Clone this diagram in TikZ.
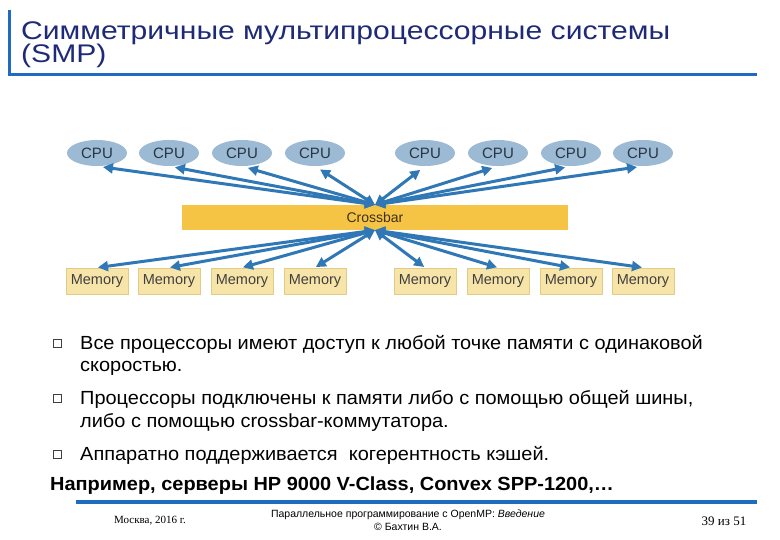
\documentclass[tikz,border=0pt]{standalone}
\usepackage{fontspec}
\setmainfont{Liberation Sans}
\newfontfamily\smpserif{Liberation Serif}
\newfontfamily\smpwide[FakeStretch=1.18]{Liberation Sans}
\newfontfamily\smpbody[FakeStretch=1.05]{Liberation Sans}
\newcommand\smptitlefont{\smpwide\fontsize{25.5}{23}\selectfont\setlength{\lineskiplimit}{-50pt}}
\usetikzlibrary{arrows.meta,shapes.geometric,positioning}
\definecolor{smpRule}{HTML}{1F6BBF}
\definecolor{smpTitle}{HTML}{1E2A78}
\definecolor{smpCpu}{HTML}{9DBAD4}
\definecolor{smpCpuText}{HTML}{263645}
\definecolor{smpBar}{HTML}{F6C445}
\definecolor{smpBarText}{HTML}{3E3018}
\definecolor{smpMem}{HTML}{F7E4A8}
\definecolor{smpMemEdge}{HTML}{E3CB86}
\definecolor{smpLink}{HTML}{2F78B5}
\tikzset{
  smpcpu/.style={ellipse,fill=smpCpu,minimum width=60pt,minimum height=26pt,inner sep=0pt,
                 text=smpCpuText,font=\fontsize{15}{15}\selectfont},
  smpmem/.style={rectangle,fill=smpMem,draw=smpMemEdge,line width=0.8pt,minimum width=62pt,
                 minimum height=26pt,inner sep=0pt,text=black!75,font=\fontsize{14.5}{14.5}\selectfont},
  smpbar/.style={rectangle,fill=smpBar,minimum width=386pt,minimum height=25pt,inner sep=0pt,
                 text=smpBarText,font=\fontsize{14}{14}\selectfont},
  smplink/.style={{Triangle[length=10pt,width=10pt]}-{Triangle[length=10pt,width=10pt]},
                  draw=smpLink,line width=3pt},
  smpbullet/.style={draw=black!75,line width=0.8pt,minimum size=8pt,inner sep=0pt},
  smpitem/.style={anchor=base west,inner sep=0pt,align=left,font=\smpbody\fontsize{19}{23}\selectfont},
  smpfoot/.style={inner sep=0pt,align=center,font=\fontsize{10.5}{13.5}\selectfont},
}
\begin{document}
\begin{tikzpicture}[x=1pt,y=-1pt]
  \useasboundingbox (0,0) rectangle (780,540);
  % title and its rule (base anchor sits on the last line)
  \draw[smpRule,line width=3pt] (9,10) -- (9,75) -- (757,75);
  \node[anchor=base west,inner sep=0pt,text=smpTitle,align=left,font=\smptitlefont]
        (title) at (21,63) {Симметричные мультипроцессорные системы\\(SMP)};

  \node[smpbar] (bar) at (375,217.5) {Crossbar};
  \foreach \x [count=\i] in {97,169,242,315,425,498,571,643}{
    \node[smpcpu] (cpu\i) at (\x,153) {CPU};
    \node[smpmem] (mem\i) at (\x,281) {Memory};
    \draw[smplink,shorten >=6pt] (bar.north) -- (cpu\i.south);
    \draw[smplink,shorten >=1pt] (bar.south) -- (mem\i.north);
  }

  \node[smpbullet] (b1) at (57,343) {};
  \node[smpitem] (t1) at (80,372) {Все процессоры имеют доступ к любой точке памяти с одинаковой\\скоростью.};
  \node[smpbullet] (b2) at (57,398) {};
  \node[smpitem] (t2) at (80,427) {Процессоры подключены к памяти либо с помощью общей шины,\\либо с помощью crossbar-коммутатора.};
  \node[smpbullet] (b3) at (57,454) {};
  \node[smpitem] (t3) at (80,460) {Аппаратно поддерживается~ когерентность кэшей.};
  \node[smpitem,font=\smpbody\bfseries\fontsize{19}{23}\selectfont] (ex) at (50,490)
        {Например, серверы HP 9000 V-Class, Convex SPP-1200,…};

  % footer
  \draw[smpRule,line width=4pt] (76,502) -- (757,502);
  \node[smpfoot,font=\smpserif\fontsize{11}{11}\selectfont] (place) at (150,521) {Москва, 2016 г.};
  \node[smpfoot] (course) at (408,520) {Параллельное программирование с OpenMP: \textit{Введение}\\© Бахтин В.А.};
  \node[smpfoot,font=\smpserif\fontsize{13}{13}\selectfont] (page) at (724,521) {39 из 51};
\end{tikzpicture}
\end{document}
